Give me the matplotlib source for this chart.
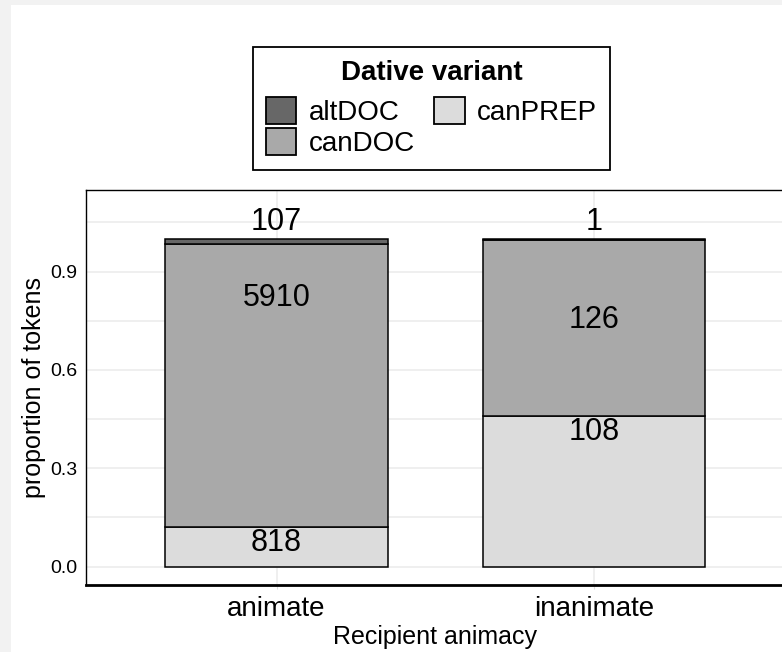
import numpy as np
import matplotlib
matplotlib.use("Agg")
import matplotlib.pyplot as plt
from matplotlib.patches import Rectangle, Patch

plt.rcParams["font.family"] = ["Liberation Sans", "DejaVu Sans"]

categories = ["animate", "inanimate"]
variants = ["canPREP", "canDOC", "altDOC"]  # bottom to top
counts = {
    "canPREP": [818, 108],
    "canDOC": [5910, 126],
    "altDOC": [107, 1],
}
label_y = {
    "canPREP": [0.072, 0.412],
    "canDOC": [0.819, 0.752],
    "altDOC": [1.052, 1.052],
}
colors = {"altDOC": "#676767", "canDOC": "#a9a9a9", "canPREP": "#dcdcdc"}

totals = np.sum([counts[v] for v in variants], axis=0)

fig = plt.figure(figsize=(7.82, 6.52), dpi=100, facecolor="#f2f2f2")
fig.patches.append(Rectangle((11 / 782, 0), 1, 647 / 652, transform=fig.transFigure,
                             facecolor="white", edgecolor="none", zorder=-5))

ax = fig.add_axes([86 / 782, 1 - 585 / 652, (784.5 - 86) / 782, (585 - 190) / 652])
ax.set_facecolor("white")

x = np.arange(1, len(categories) + 1)
width = 0.7
bottom = np.zeros(len(categories))
for v in variants:
    prop = np.array(counts[v]) / totals
    ax.bar(x, prop, width, bottom=bottom, color=colors[v], edgecolor="black",
           linewidth=1.1, zorder=2)
    bottom += prop
    for xi, yi, n in zip(x, label_y[v], counts[v]):
        ax.text(xi, yi, str(n), ha="center", va="center", fontsize=22, zorder=3)

ax.set_xlim(0.4, 2.6)
ax.set_ylim(-0.0558, 1.1485)
ax.set_xticks(x)
ax.set_xticklabels(categories, fontsize=20)
ax.set_yticks([0.0, 0.3, 0.6, 0.9])
ax.set_yticklabels(["0.0", "0.3", "0.6", "0.9"], fontsize=14)
ax.set_yticks([0.15, 0.45, 0.75, 1.05], minor=True)
ax.tick_params(axis="y", which="both", length=0, pad=6)
ax.tick_params(axis="x", length=3, color="#dddddd", pad=5)

ax.set_axisbelow(True)
ax.grid(True, which="major", color="#ebebeb", linewidth=1.1)
ax.grid(True, which="minor", axis="y", color="#ebebeb", linewidth=1.1)

for side in ["top", "left", "right"]:
    ax.spines[side].set_linewidth(1.0)
    ax.spines[side].set_color("black")
ax.spines["bottom"].set_linewidth(2.0)

ax.set_xlabel("Recipient animacy", fontsize=18, labelpad=2)
ax.set_ylabel("proportion of tokens", fontsize=18, labelpad=3)

handles = [Patch(facecolor=colors[v], edgecolor="black", linewidth=1.3, label=v)
           for v in ["altDOC", "canDOC", "canPREP"]]
leg = fig.legend(handles=handles, ncol=2, loc="upper left",
                 bbox_to_anchor=(253 / 782, 1 - 47 / 652), bbox_transform=fig.transFigure,
                 fontsize=20, title="Dative variant", title_fontproperties={"weight": "bold", "size": 20},
                 frameon=True, fancybox=False, edgecolor="black", framealpha=1,
                 handlelength=1.1, handleheight=1.1, handletextpad=0.45, labelspacing=0.08,
                 columnspacing=0.7, borderpad=0.45, borderaxespad=0)
leg.get_frame().set_linewidth(1.3)
# extra gap between the legend title and the keys
leg._legend_box.sep = 8.5

fig.savefig("out.png", dpi=100, facecolor=fig.get_facecolor())
